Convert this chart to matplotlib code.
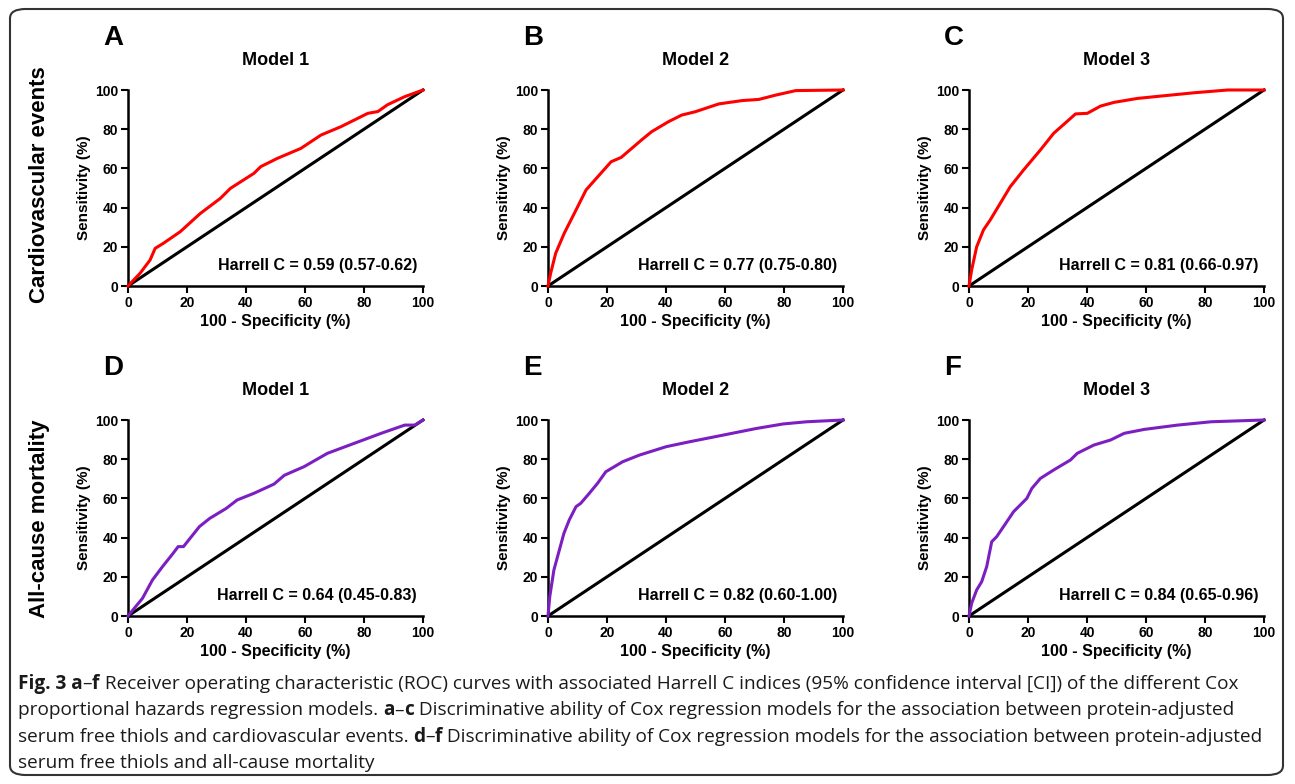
import matplotlib
matplotlib.use("Agg")
import matplotlib.pyplot as plt
from matplotlib.patches import FancyBboxPatch

plt.rcParams['font.family'] = ['Liberation Sans', 'DejaVu Sans']

# ROC curves: 100 - specificity (%), sensitivity (%)
a_x = [0, 4.1, 7.5, 9.2, 12, 17.7, 24.5, 31.3, 34.7, 42.7, 45, 50.6, 58.6, 65.4, 72.2, 81.3, 84.7, 88, 93.8, 100]
a_y = [0, 6.5, 13.3, 19.2, 21.8, 27.7, 37, 44.7, 49.8, 57.5, 60.9, 65.1, 70.2, 77, 81.3, 88.1, 89, 92.5, 96.6, 100]

b_x = [0, 0.9, 2.6, 5.5, 8.9, 12.9, 16.9, 21.4, 24.8, 31.7, 35.1, 40.8, 45.3, 49.9, 57.9, 65.8, 71.5, 77.2, 84, 100]
b_y = [0, 6.5, 16.7, 26.9, 37, 49, 55.8, 63.4, 65.6, 74.5, 78.7, 83.8, 87.2, 88.9, 92.9, 94.6, 95.2, 97.4, 99.7, 100]

c_x = [0, 0.9, 2.6, 4.9, 7.2, 10.6, 14, 18.5, 24.2, 28.7, 34.4, 36.1, 40.1, 44.6, 49.2, 57.1, 65, 76.4, 87.7, 100]
c_y = [0, 8.2, 20, 28.6, 33.7, 42.2, 50.7, 59.2, 69.4, 77.9, 85.5, 87.8, 88.1, 91.8, 93.7, 95.7, 96.9, 98.6, 100, 100]

d_x = [0, 2.6, 4.9, 8.3, 11.7, 15.3, 17, 18.8, 24.2, 27.7, 33.3, 37, 42.7, 49.5, 53, 59.7, 67.6, 76.7, 85.8, 93.8, 97.2, 100]
d_y = [0, 4.8, 9, 18.4, 25.2, 32, 35.4, 35.4, 45.6, 49.8, 54.9, 59.2, 62.6, 67.3, 71.8, 76.2, 83, 88.1, 93.2, 97.4, 97.4, 100]

e_x = [0, 0.6, 2, 5.4, 7.2, 9.5, 11.1, 14, 16.8, 19.6, 25.3, 31, 40.1, 48, 59.4, 70.7, 79.8, 87.7, 100]
e_y = [0, 9.9, 23.5, 42.2, 49, 55.8, 57.5, 62.6, 67.7, 73.6, 78.7, 82.1, 86.4, 88.9, 92.3, 95.7, 98, 99.1, 100]

f_x = [0, 0.9, 2.6, 4.3, 6, 7.7, 9.4, 11.7, 15.1, 19.6, 21.3, 24.2, 28.7, 34.4, 36.7, 42.3, 48, 52.6, 59.4, 70.7, 82.1, 100]
f_y = [0, 6.5, 13.3, 17.5, 25.2, 37.9, 40.5, 45.6, 53.2, 60, 65.1, 70.2, 74.5, 79.6, 83, 87.2, 89.8, 93.2, 95.2, 97.4, 99.1, 100]

letters = ['A', 'B', 'C', 'D', 'E', 'F']
titles = ['Model 1', 'Model 2', 'Model 3', 'Model 1', 'Model 2', 'Model 3']
harrell = ['Harrell C = 0.59 (0.57-0.62)', 'Harrell C = 0.77 (0.75-0.80)', 'Harrell C = 0.81 (0.66-0.97)',
           'Harrell C = 0.64 (0.45-0.83)', 'Harrell C = 0.82 (0.60-1.00)', 'Harrell C = 0.84 (0.65-0.96)']
curves = [(a_x, a_y), (b_x, b_y), (c_x, c_y), (d_x, d_y), (e_x, e_y), (f_x, f_y)]
row_labels = ['Cardiovascular events', 'All-cause mortality']
ticks = [0, 20, 40, 60, 80, 100]

RED = '#ff0000'
PURPLE = '#7b1fc2'

W, H = 1295, 784
fig = plt.figure(figsize=(W / 100, H / 100), dpi=100)

lefts = [128, 548, 969]
tops = [90, 420]
aw, ah = 295, 196

for i in range(6):
    r, c = divmod(i, 3)
    ax = fig.add_axes([lefts[c] / W, 1 - (tops[r] + ah) / H, aw / W, ah / H])
    x, y = curves[i]
    ax.plot([0, 100], [0, 100], color='black', lw=2.2, clip_on=False, zorder=2)
    ax.plot(x, y, color=RED if r == 0 else PURPLE, lw=2.2, clip_on=False, zorder=3)
    ax.set_xlim(0, 100)
    ax.set_ylim(0, 100)
    ax.set_xticks(ticks)
    ax.set_yticks(ticks)
    for s in ['top', 'right']:
        ax.spines[s].set_visible(False)
    for s in ['left', 'bottom']:
        ax.spines[s].set_linewidth(1.8)
    ax.tick_params(direction='out', length=5, width=1.5, labelsize=10, pad=2)
    for lab in ax.get_xticklabels() + ax.get_yticklabels():
        lab.set_fontweight('bold')
    ax.set_xlabel('100 - Specificity (%)', fontsize=11.5, fontweight='bold', labelpad=3)
    ax.set_ylabel('Sensitivity (%)', fontsize=11, fontweight='bold', labelpad=3)
    ax.set_title(titles[i], fontsize=13, fontweight='bold', pad=18)
    ax.text(98, 10.5, harrell[i], ha='right', va='center', fontsize=11.5, fontweight='bold')
    fig.text((lefts[c] - 25) / W, 1 - (tops[r] - 52) / H, letters[i], fontsize=20, fontweight='bold',
             ha='left', va='center')

fig.text(40 / W, 1 - 185 / H, row_labels[0], rotation=90, fontsize=16, fontweight='bold',
         ha='center', va='center')
fig.text(40 / W, 1 - 519 / H, row_labels[1], rotation=90, fontsize=16, fontweight='bold',
         ha='center', va='center')

# caption
cap_font = ['Open Sans', 'DejaVu Sans']
lines = [
    [('Fig. 3 a', 'bold'), ('–', 'normal'), ('f', 'bold'),
     (' Receiver operating characteristic (ROC) curves with associated Harrell C indices (95% confidence interval [CI]) of the different Cox', 'normal')],
    [('proportional hazards regression models. ', 'normal'), ('a', 'bold'), ('–', 'normal'), ('c', 'bold'),
     (' Discriminative ability of Cox regression models for the association between protein-adjusted', 'normal')],
    [('serum free thiols and cardiovascular events. ', 'normal'), ('d', 'bold'), ('–', 'normal'), ('f', 'bold'),
     (' Discriminative ability of Cox regression models for the association between protein-adjusted', 'normal')],
    [('serum free thiols and all-cause mortality', 'normal')],
]
fig.canvas.draw()
renderer = fig.canvas.get_renderer()

# fit the caption size so the first line spans the reference width
probe = fig.text(0, 0, ''.join(p[0] for p in lines[0]), fontsize=14, family=cap_font)
cap_size = 14 * 1220 / probe.get_window_extent(renderer=renderer).width
probe.remove()

for k, parts in enumerate(lines):
    xpos = 18
    ypos = 1 - (684 + 26.3 * k) / H
    for txt, wt in parts:
        t = fig.text(xpos / W, ypos, txt, fontsize=cap_size, fontweight=wt, family=cap_font,
                     color='#1a1a1a', ha='left', va='center')
        bb = t.get_window_extent(renderer=renderer)
        xpos += bb.width

box = FancyBboxPatch((10 / W, 9 / H), 1273 / W, 766 / H, boxstyle='round,pad=0,rounding_size=0.012',
                     transform=fig.transFigure, fill=False, edgecolor='#333333', lw=1.5)
fig.patches.append(box)

fig.savefig('out.png', dpi=100)
